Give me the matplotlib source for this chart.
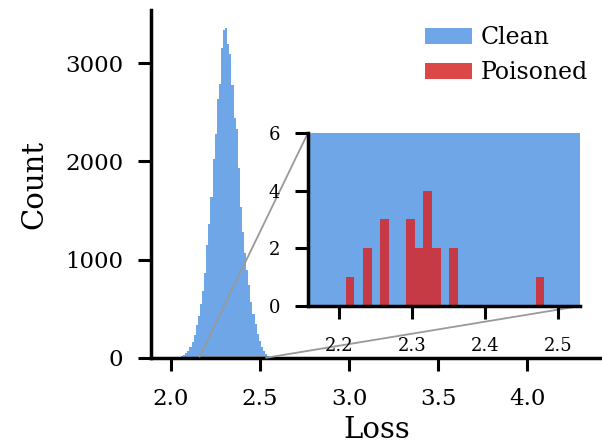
import numpy as np
import matplotlib
matplotlib.use("Agg")
import matplotlib.pyplot as plt
from mpl_toolkits.axes_grid1.inset_locator import mark_inset

plt.rcParams['font.family'] = ['DejaVu Serif']

# Histogram data
bin_width = 0.0118
first_edge = 2.0444
clean_counts = [8, 20, 30, 48, 71, 108, 166, 234, 339, 427, 546, 682, 862, 1150,
                1363, 1638, 2024, 2279, 2635, 2787, 3154, 3337, 3357, 3194, 3093,
                2777, 2441, 2330, 1933, 1536, 1282, 1064, 895, 743, 573, 448, 346,
                241, 173, 115, 71, 41, 23, 12, 6, 3]
# poisoned counts on the same bins (bin index -> count)
poisoned_bins = [14, 16, 18, 21, 22, 23, 24, 26, 36]
poisoned_counts = [1, 2, 3, 3, 2, 4, 2, 2, 1]

main_xticks = [2.0, 2.5, 3.0, 3.5, 4.0]
main_yticks = [0, 1000, 2000, 3000]
inset_xticks = [2.2, 2.3, 2.4, 2.5]
inset_yticks = [0, 2, 4, 6]

edges = first_edge + bin_width * np.arange(len(clean_counts) + 1)
centers = 0.5 * (edges[:-1] + edges[1:])
p_centers = centers[poisoned_bins]

blue = '#4a90e2'
red = '#d62728'

fig = plt.figure(figsize=(6.02, 4.44), dpi=100)
ax = fig.add_axes([0.251, 0.194, 0.746, 0.783])

def draw(a):
    a.hist(centers, bins=edges, weights=clean_counts, color=blue, alpha=0.8,
           label='Clean')
    a.hist(p_centers, bins=edges, weights=poisoned_counts, color=red, alpha=0.85,
           label='Poisoned')

def style(a, labelsize, xpad, ypad):
    a.tick_params(labelsize=labelsize, width=2.2, length=9.5)
    a.tick_params(axis='x', pad=xpad)
    a.tick_params(axis='y', pad=ypad)
    for s in ['top', 'right']:
        a.spines[s].set_visible(False)
    for s in ['left', 'bottom']:
        a.spines[s].set_linewidth(2.5)

draw(ax)
ax.set_xlim(1.888, 4.41)
ax.set_ylim(0, 3540)
ax.set_xticks(main_xticks)
ax.set_yticks(main_yticks)
ax.set_xlabel('Loss', fontsize=21)
ax.set_ylabel('Count', fontsize=21)
ax.xaxis.set_label_coords(0.502, -0.166)
ax.yaxis.set_label_coords(-0.228, 0.5)
style(ax, 16.5, 12, 10.5)
ax.legend(loc='upper right', frameon=False, fontsize=17, handlelength=2.0,
          handletextpad=0.35, borderaxespad=0,
          bbox_to_anchor=(0.992, 0.962), bbox_transform=fig.transFigure)

axins = fig.add_axes([0.5116, 0.3108, 0.452, 0.39])
draw(axins)
axins.set_xlim(2.158, 2.53)
axins.set_ylim(0, 6)
axins.set_xticks(inset_xticks)
axins.set_yticks(inset_yticks)
style(axins, 13, 12.5, 10.5)

mark_inset(ax, axins, loc1=2, loc2=4, fc='none', ec='0.6', lw=1.3)

fig.savefig('out.png', dpi=100)
